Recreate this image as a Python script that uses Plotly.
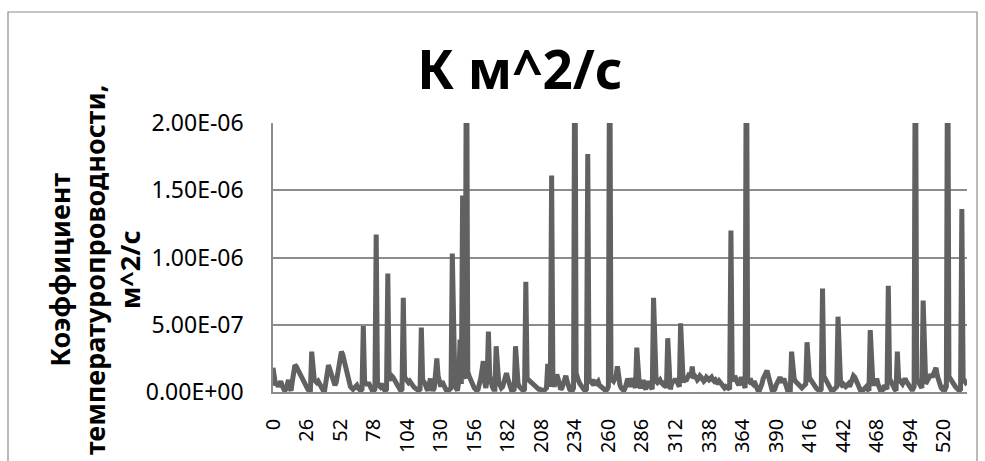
import plotly.graph_objects as go

# Values in units of 1e-8 m^2/s, 13 points per row (row k starts at index 13*k)
k_e8 = [
    18, 6, 5, 7, 4, 6, 8, 5, 3, 1, 2, 6, 9,
    3, 1, 8, 16, 20, 19, 17, 14, 12, 10, 8, 6, 4,
    3, 2, 1, 1, 30, 11, 9, 8, 7, 8, 6, 4, 2,
    1, 1, 6, 14, 20, 17, 14, 10, 7, 5, 7, 14, 22,
    28, 30, 28, 24, 18, 13, 9, 6, 4, 3, 2, 3, 4,
    5, 3, 2, 1, 2, 49, 8, 6, 5, 7, 4, 3, 1,
    1, 2, 117, 7, 5, 4, 6, 3, 2, 1, 2, 88, 9,
    10, 12, 11, 9, 8, 6, 4, 2, 1, 2, 70, 11, 9,
    8, 7, 8, 6, 5, 4, 3, 2, 1, 1, 2, 48, 9,
    8, 6, 3, 1, 5, 10, 4, 1, 3, 15, 25, 12, 6,
    4, 8, 6, 3, 1, 0, 1, 2, 3, 103, 10, 6, 3,
    1, 8, 39, 6, 146, 12, 10, 300, 15, 12, 9, 7, 5,
    3, 2, 1, 2, 5, 10, 16, 23, 8, 3, 10, 45, 12,
    7, 4, 2, 2, 34, 10, 7, 5, 3, 4, 8, 13, 14,
    10, 6, 3, 1, 1, 2, 34, 9, 6, 4, 3, 2, 1,
    2, 82, 10, 9, 8, 7, 7, 6, 5, 4, 3, 2, 2,
    1, 1, 1, 2, 3, 21, 6, 4, 161, 8, 4, 8, 13,
    10, 5, 2, 3, 7, 11, 12, 8, 4, 2, 1, 1, 3,
    300, 14, 10, 8, 6, 4, 3, 2, 1, 2, 177, 10, 8,
    7, 9, 6, 5, 7, 8, 5, 4, 3, 2, 1, 1, 2,
    4, 300, 12, 9, 8, 10, 12, 19, 8, 5, 3, 2, 1,
    3, 6, 10, 7, 4, 8, 10, 6, 3, 33, 8, 5, 3,
    6, 9, 4, 2, 5, 8, 6, 3, 2, 70, 10, 8, 7,
    8, 9, 7, 6, 8, 5, 3, 40, 5, 2, 6, 9, 7,
    10, 8, 6, 4, 51, 9, 7, 10, 8, 10, 12, 14, 11,
    19, 10, 12, 11, 9, 10, 12, 11, 10, 8, 9, 11, 10,
    9, 10, 11, 9, 8, 9, 7, 6, 8, 7, 5, 4, 3,
    4, 3, 2, 2, 120, 10, 8, 12, 9, 6, 5, 8, 11,
    8, 5, 3, 300, 9, 8, 10, 7, 6, 8, 5, 3, 1,
    1, 3, 6, 10, 13, 15, 16, 12, 7, 3, 1, 1, 2,
    5, 8, 10, 11, 9, 7, 10, 6, 3, 1, 1, 1, 30,
    12, 10, 8, 7, 6, 5, 4, 3, 4, 5, 6, 37, 10,
    8, 9, 7, 6, 5, 3, 2, 1, 1, 2, 77, 12, 10,
    8, 6, 4, 2, 1, 1, 2, 3, 4, 56, 8, 6, 5,
    6, 5, 4, 5, 6, 4, 6, 9, 12, 11, 9, 6, 3,
    1, 0, 1, 2, 3, 4, 2, 1, 46, 9, 7, 5, 8,
    10, 6, 3, 1, 1, 2, 5, 3, 2, 79, 10, 8, 5,
    3, 2, 1, 30, 10, 8, 7, 6, 8, 10, 8, 6, 4,
    3, 2, 2, 4, 300, 10, 8, 6, 4, 3, 68, 8, 6,
    8, 10, 12, 13, 11, 14, 16, 18, 12, 8, 5, 3, 2,
    3, 2, 4, 300, 9, 10, 8, 6, 5, 4, 3, 2, 1,
    2, 136, 10, 8, 7, 8,
]
k_values = [v * 1e-8 for v in k_e8]
categories = list(range(len(k_values)))

x_tick_vals = list(range(0, 521, 26))
x_tick_labels = [str(v) for v in x_tick_vals]
y_tick_vals = [0, 5e-7, 1e-6, 1.5e-6, 2e-6]
y_tick_labels = ["0.00E+00", "5.00E-07", "1.00E-06", "1.50E-06", "2.00E-06"]

title_text = "К м^2/с"
y_title_text = "Коэффициент<br>температуропроводности,<br>м^2/с"

FONT = "Noto Sans, Open Sans, DejaVu Sans, sans-serif"
GRID = "#8c8c8c"

fig = go.Figure()
fig.add_trace(go.Scatter(
    x=categories, y=k_values, mode="lines",
    line=dict(color="#616161", width=5),
    hoverinfo="skip", showlegend=False,
))

L, R, T, B = 273, 18, 123, 69
W, H = 985, 461
pw, ph = W - L - R, H - T - B

fig.update_layout(
    width=W, height=H,
    margin=dict(l=L, r=R, t=T, b=B, pad=0, autoexpand=False),
    paper_bgcolor="white", plot_bgcolor="white",
    showlegend=False,
    font=dict(family=FONT, color="#000000"),
    title=dict(text="<b>%s</b>" % title_text, x=520 / W, xanchor="center",
               y=1 - 70 / H, yanchor="middle", yref="container",
               font=dict(size=53, family=FONT, color="#000000")),
    xaxis=dict(
        range=[0, len(k_values) - 1], tickmode="array", automargin=False,
        tickvals=x_tick_vals, ticktext=x_tick_labels, tickangle=-90,
        showgrid=False, zeroline=False, showline=True, linecolor=GRID, linewidth=1.5,
        ticks="outside", ticklen=17, tickcolor="rgba(0,0,0,0)",
        tickfont=dict(size=20, family=FONT, color="#000000"),
    ),
    yaxis=dict(
        range=[0, 2e-6], tickmode="array", automargin=False,
        tickvals=y_tick_vals, ticktext=y_tick_labels,
        showgrid=True, gridcolor=GRID, gridwidth=1.5,
        zeroline=False, showline=True, linecolor=GRID, linewidth=1.5,
        ticks="outside", ticklen=23, tickcolor="rgba(0,0,0,0)",
        tickfont=dict(size=23, family=FONT, color="#000000"),
    ),
    annotations=[dict(
        text="<b>%s</b>" % y_title_text, textangle=-90,
        xref="paper", yref="paper",
        x=(94 - L) / pw, y=(H - B - 270) / ph,
        xanchor="center", yanchor="middle", showarrow=False,
        font=dict(size=27, family=FONT, color="#000000"),
    )],
    shapes=[dict(
        type="rect", xref="paper", yref="paper",
        x0=(8 - L) / pw, x1=(977 - L) / pw,
        y0=(H - B - 475) / ph, y1=(H - B - 12) / ph,
        line=dict(color=GRID, width=1.2), fillcolor="rgba(0,0,0,0)",
        layer="below",
    )],
)

fig.write_html("out.html")
